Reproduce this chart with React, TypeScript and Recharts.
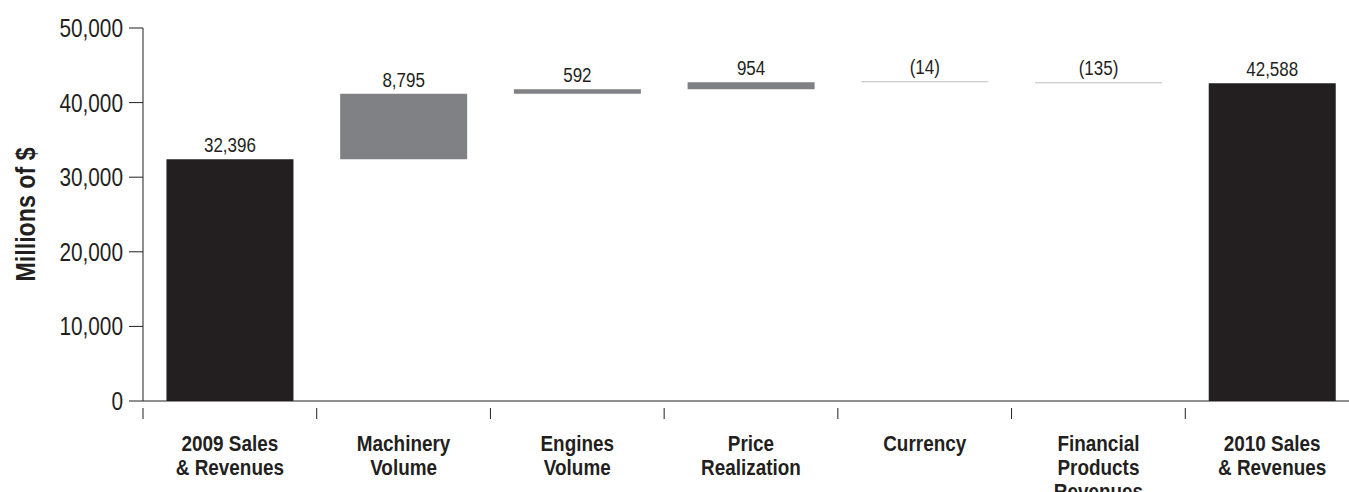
import React from 'react';
import { BarChart, Bar, XAxis, YAxis, Cell, LabelList } from 'recharts';

const categories = [
  ['2009 Sales', '& Revenues'],
  ['Machinery', 'Volume'],
  ['Engines', 'Volume'],
  ['Price', 'Realization'],
  ['Currency'],
  ['Financial', 'Products', 'Revenues'],
  ['2010 Sales', '& Revenues'],
];
const changes = [32396, 8795, 592, 954, -14, -135, 42588];
const isTotal = [true, false, false, false, false, false, true];
const yTicks = [0, 10000, 20000, 30000, 40000, 50000];

// condensed look: Liberation Sans squeezed horizontally
const FONT = '"Liberation Sans", Arial, sans-serif';
const BLACK = '#231f20';
const GRAY = '#808184';
const LIGHT = '#bcbec0';

const CHART_W = 1360;
const CHART_H = 492;
const Y_W = 143;
const PLOT_W = CHART_W - Y_W - 1;
const BAND = PLOT_W / categories.length;

// running totals for the waterfall
let running = 0;
const data = categories.map((c, i) => {
  let range: [number, number];
  if (isTotal[i]) {
    range = [0, changes[i]];
    running = changes[i];
  } else {
    const start = running;
    running = running + changes[i];
    range = [Math.min(start, running), Math.max(start, running)];
  }
  return { name: String(i), lines: c, range, change: changes[i] };
});

const fmt = (v: number) =>
  v < 0 ? `(${Math.abs(v).toLocaleString('en-US')})` : v.toLocaleString('en-US');

const barColor = (i: number) => {
  if (isTotal[i]) return BLACK;
  if (changes[i] < 0) return LIGHT;
  return GRAY;
};

const CondText = ({ x, y, sx, size, bold, anchor, rotate, children }: any) => (
  <text
    transform={`translate(${x},${y})${rotate ? ` rotate(${rotate})` : ''} scale(${sx},1)`}
    x={0}
    y={0}
    textAnchor={anchor || 'middle'}
    fontFamily={FONT}
    fontSize={size}
    fontWeight={bold ? 'bold' : 'normal'}
    fill={BLACK}
  >
    {children}
  </text>
);

const CatTick = (props: any) => {
  const { x, y, payload } = props;
  const d = data[Number(payload.value)];
  return (
    <g>
      <line x1={x - BAND / 2} x2={x - BAND / 2} y1={y - 1} y2={y + 10} stroke={BLACK} strokeWidth={1} />
      {d.lines.map((l, k) => (
        <CondText key={k} x={x} y={y + 42 + k * 24} sx={0.86} size={22} bold>
          {l}
        </CondText>
      ))}
    </g>
  );
};

const YTick = (props: any) => {
  const { x, y, payload } = props;
  return (
    <CondText x={x} y={y + 9} sx={0.8} size={26} anchor="end">
      {payload.value.toLocaleString('en-US')}
    </CondText>
  );
};

const ValueLabel = (props: any) => {
  const { x, y, width, index } = props;
  return (
    <CondText x={x + width / 2} y={y - 7} sx={0.81} size={21}>
      {fmt(changes[index])}
    </CondText>
  );
};

const YTitle = (props: any) => {
  const { viewBox } = props;
  const cy = viewBox.y + viewBox.height / 2;
  return (
    <CondText x={35} y={cy} sx={0.86} size={27} bold rotate={-90}>
      Millions of $
    </CondText>
  );
};

export default function App() {
  return (
    <div style={{ position: 'absolute', left: 0, top: 0, width: 1349, height: 492, overflow: 'hidden', background: '#fff' }}>
      <BarChart
        width={CHART_W}
        height={CHART_H}
        data={data}
        margin={{ top: 28, right: 1, bottom: 0, left: 0 }}
        barCategoryGap="13.5%"
      >
        <XAxis
          dataKey="name"
          height={91}
          axisLine={{ stroke: BLACK, strokeWidth: 1 }}
          tickLine={false}
          tick={<CatTick />}
          interval={0}
        />
        <YAxis
          width={Y_W}
          domain={[0, 50000]}
          ticks={yTicks}
          tickSize={14}
          tickMargin={6}
          axisLine={{ stroke: BLACK, strokeWidth: 1 }}
          tickLine={{ stroke: BLACK, strokeWidth: 1 }}
          tick={<YTick />}
          label={<YTitle />}
        />
        <Bar dataKey="range" isAnimationActive={false} minPointSize={1}>
          {data.map((d, i) => (
            <Cell key={i} fill={barColor(i)} />
          ))}
          <LabelList dataKey="change" content={<ValueLabel />} />
        </Bar>
      </BarChart>
    </div>
  );
}
